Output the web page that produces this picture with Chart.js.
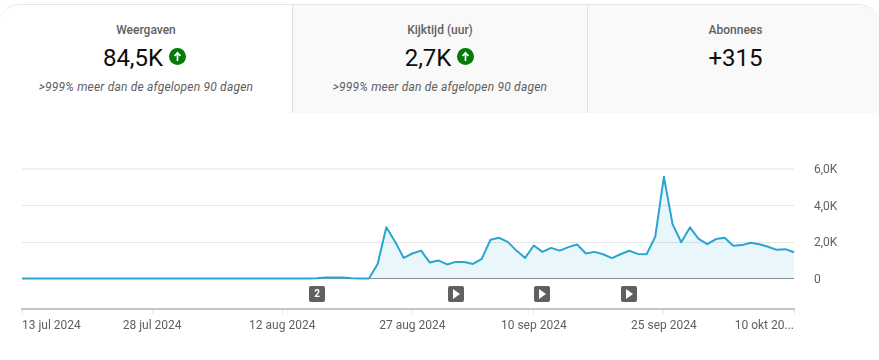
<!DOCTYPE html>
<html lang="nl">
<head>
<meta charset="utf-8">
<title>Weergaven</title>
<script src="https://cdn.jsdelivr.net/npm/chart.js@4"></script>
<style>
  html, body { margin: 0; padding: 0; background: #fff; }
  body { width: 879px; height: 360px; position: relative; overflow: hidden; font-family: Roboto, sans-serif; }
  .cards { position: absolute; left: 0; top: 4px; width: 879px; height: 109px; display: flex; box-sizing: border-box; border-top: 1px solid #e5e5e5; border-radius: 20px 20px 0 0; overflow: hidden; }
  .card { width: 293px; text-align: center; box-sizing: border-box; border-right: 1px solid #e0e0e0; background: #f9f9f9; position: relative; }
  .card:first-child { background: #fff; }
  .card:nth-child(2) { width: 295px; }
  .card:last-child { width: 291px; border-right: 0; padding-left: 4px; }
  .title { position: relative; margin-top: 18px; font-size: 12px; line-height: 14px; font-weight: 500; color: #606060; }
  .value { position: absolute; left: -3px; right: 0; top: 38px; font-size: 24px; line-height: 30px; color: #0d0d0d; }
  .card:nth-child(2) .value { left: -1px; }
  .card:last-child .value { left: 4px; }
  .up { display: inline-block; width: 17px; height: 17px; border-radius: 50%; background: #067a06; vertical-align: 1px; }
  .up svg { display: block; }
  .sub { position: absolute; left: 0; right: 0; top: 75px; font-size: 12px; font-style: italic; color: #606060; letter-spacing: 0.2px; }
  #wrap { position: absolute; left: 0; top: 113px; width: 879px; height: 247px; }
</style>
</head>
<body>
<div class="cards">
  <div class="card">
    <div class="title">Weergaven</div>
    <div class="value">84,5K <span class="up"><svg width="17" height="17" viewBox="0 0 17 17"><path d="M8.5 13V5M5.5 8l3-3.2 3 3.2" fill="none" stroke="#fff" stroke-width="1.7"/></svg></span></div>
    <div class="sub">&gt;999% meer dan de afgelopen 90 dagen</div>
  </div>
  <div class="card">
    <div class="title">Kijktijd (uur)</div>
    <div class="value">2,7K <span class="up"><svg width="17" height="17" viewBox="0 0 17 17"><path d="M8.5 13V5M5.5 8l3-3.2 3 3.2" fill="none" stroke="#fff" stroke-width="1.7"/></svg></span></div>
    <div class="sub">&gt;999% meer dan de afgelopen 90 dagen</div>
  </div>
  <div class="card">
    <div class="title">Abonnees</div>
    <div class="value">+315</div>
  </div>
</div>
<div id="wrap"><canvas id="myChart" width="879" height="247"></canvas></div>

<script>
// === Dagen en weergaven ===
const days = [
  '13 jul', '14 jul', '15 jul', '16 jul', '17 jul', '18 jul', '19 jul', '20 jul', '21 jul', '22 jul',
  '23 jul', '24 jul', '25 jul', '26 jul', '27 jul', '28 jul', '29 jul', '30 jul', '31 jul',
  '1 aug', '2 aug', '3 aug', '4 aug', '5 aug', '6 aug', '7 aug', '8 aug', '9 aug', '10 aug',
  '11 aug', '12 aug', '13 aug', '14 aug', '15 aug', '16 aug', '17 aug', '18 aug', '19 aug', '20 aug',
  '21 aug', '22 aug', '23 aug', '24 aug', '25 aug', '26 aug', '27 aug', '28 aug', '29 aug', '30 aug', '31 aug',
  '1 sep', '2 sep', '3 sep', '4 sep', '5 sep', '6 sep', '7 sep', '8 sep', '9 sep', '10 sep',
  '11 sep', '12 sep', '13 sep', '14 sep', '15 sep', '16 sep', '17 sep', '18 sep', '19 sep', '20 sep',
  '21 sep', '22 sep', '23 sep', '24 sep', '25 sep', '26 sep', '27 sep', '28 sep', '29 sep', '30 sep',
  '1 okt', '2 okt', '3 okt', '4 okt', '5 okt', '6 okt', '7 okt', '8 okt', '9 okt', '10 okt'
];

const views = [
  0, 0, 0, 0, 0, 0, 0, 0, 0, 0,
  0, 0, 0, 0, 0, 0, 0, 0, 0, 0,
  0, 0, 0, 0, 0, 0, 0, 0, 0, 0,
  0, 0, 0, 0, 10, 50, 60, 50, 10, 0,
  0, 800, 2810, 2030, 1130, 1370, 1530, 880, 990, 770,
  910, 910, 800, 1080, 2120, 2230, 2010, 1530, 1130, 1810,
  1460, 1680, 1530, 1720, 1860, 1370, 1460, 1330, 1120, 1330,
  1520, 1350, 1330, 2280, 5570, 2980, 1990, 2800, 2170, 1880,
  2160, 2230, 1790, 1830, 1960, 1880, 1740, 1570, 1610, 1440
];

const yTicks = [0, 2000, 4000, 6000];
const yTickLabels = ['0', '2,0K', '4,0K', '6,0K'];
const xTickIndexes = [0, 15, 30, 45, 59, 74, 89];
const xTickLabels = ['13 jul 2024', '28 jul 2024', '12 aug 2024', '27 aug 2024', '10 sep 2024', '25 sep 2024', '10 okt 20...'];
const markerIndexes = [34, 50, 60, 70];
const markerLabels = ['2', '', '', ''];

// badges onder de nullijn
const markerPlugin = {
  id: 'markers',
  afterDraw(chart) {
    const c = chart.ctx;
    const bottom = chart.chartArea.bottom;
    markerIndexes.forEach((idx, i) => {
      const x = Math.round(chart.scales.x.getPixelForValue(idx));
      const y = bottom - 15;
      c.save();
      c.fillStyle = '#606060';
      c.beginPath();
      c.roundRect(x - 8, y - 8, 16, 16, 2);
      c.fill();
      c.fillStyle = '#fff';
      if (markerLabels[i]) {
        c.font = '700 10px Roboto';
        c.textAlign = 'center';
        c.textBaseline = 'middle';
        c.fillText(markerLabels[i], x, y + 0.5);
      } else {
        c.beginPath();
        c.moveTo(x - 3, y - 5);
        c.lineTo(x + 4, y);
        c.lineTo(x - 3, y + 5);
        c.closePath();
        c.fill();
      }
      c.restore();
    });
  }
};

const ctx = document.getElementById('myChart').getContext('2d');
new Chart(ctx, {
  type: 'line',
  data: {
    labels: days,
    datasets: [{
      label: 'Weergaven',
      data: views,
      borderColor: '#2aa5d1',
      backgroundColor: 'rgba(42, 165, 209, 0.1)',
      borderWidth: 2,
      borderJoinStyle: 'round',
      pointRadius: 0,
      tension: 0,
      fill: { value: 0 }
    }]
  },
  options: {
    responsive: false,
    animation: false,
    layout: { padding: { left: 22, top: 56, right: 0, bottom: 0 } },
    plugins: { legend: { display: false }, tooltip: { enabled: false } },
    scales: {
      x: {
        afterBuildTicks: scale => { scale.ticks = xTickIndexes.map(v => ({ value: v })); },
        afterFit: scale => { scale.height = 51; },
        border: { color: '#c6c6c6', width: 2 },
        grid: { drawOnChartArea: false, tickLength: 5, tickColor: '#e8e8e8' },
        ticks: {
          autoSkip: false,
          maxRotation: 0,
          align: 'inner',
          padding: 5,
          color: '#606060',
          font: { family: 'Roboto', size: 12 },
          callback: value => xTickLabels[xTickIndexes.indexOf(value)]
        }
      },
      y: {
        position: 'right',
        min: -1670,
        max: 6000,
        afterBuildTicks: scale => { scale.ticks = yTicks.map(v => ({ value: v })); },
        afterFit: scale => { scale.width = 85; },
        border: { display: false },
        grid: {
          drawTicks: false,
          color: c => c.tick.value === 0 ? '#909090' : (c.tick.value === 6000 ? '#f2f2f2' : '#e6e6e6'),
          lineWidth: c => c.tick.value === 6000 ? 2 : 1
        },
        ticks: {
          padding: 20,
          labelOffset: 1,
          color: '#606060',
          font: { family: 'Roboto', size: 12 },
          callback: value => yTickLabels[yTicks.indexOf(value)]
        }
      }
    }
  },
  plugins: [markerPlugin]
});
</script>
</body>
</html>
